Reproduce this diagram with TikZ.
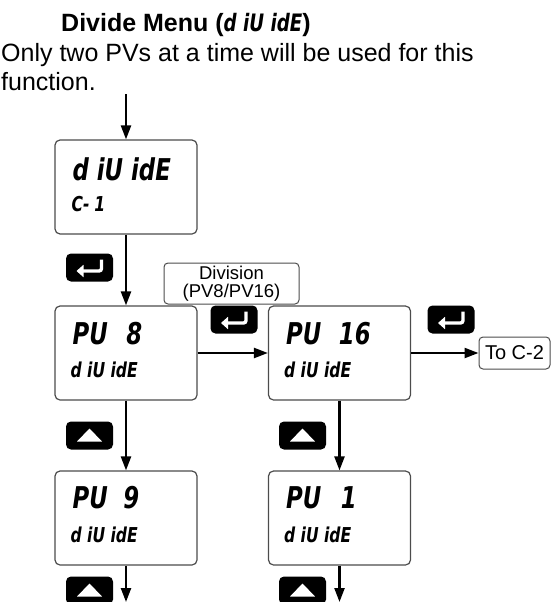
\documentclass[tikz,border=0pt]{standalone}
\usepackage{fontspec}
\setmainfont{Liberation Sans}
\newfontfamily\segfont[FakeStretch=0.76]{DejaVu Sans}
\usetikzlibrary{arrows.meta,calc}
\begin{document}
\begin{tikzpicture}[x=1pt,y=-1pt,
 disp/.style={draw=black!70, line width=1.2pt, rounded corners=5pt, minimum width=142pt, minimum height=94pt, inner sep=0pt},
 btn/.style={fill=black, rounded corners=5pt, minimum width=47pt, minimum height=28pt, inner sep=0pt},
 lbl/.style={draw=black!70, line width=1pt, rounded corners=4pt, inner sep=0pt, font=\fontsize{18.5}{18}\selectfont, align=center},
 flow/.style={line width=2.3pt, -{Triangle[length=14pt,width=10pt]}},
 segA/.style={font={\fontsize{30}{30}\selectfont\segfont\bfseries\itshape}, inner sep=0pt, anchor=base west},
 segB/.style={font={\fontsize{20.5}{21}\selectfont\segfont\bfseries\itshape}, inner sep=0pt, anchor=base west},
 txt/.style={font={\fontsize{25}{28}\selectfont}, inner sep=0pt, anchor=base west},
 entersym/.style={white, line width=3.4pt, rounded corners=2.5pt, -{Triangle[length=7pt,width=12pt]}},
]
\useasboundingbox (0,0) rectangle (555,602);
\clip (0,0) rectangle (555,602);

% texts
\node[txt, font={\fontsize{25}{28}\selectfont\bfseries}] (title) at (61,32) {Divide Menu ({\fontsize{24}{28}\selectfont\segfont\bfseries\itshape d iU idE})};
\node[txt] (intro1) at (1,62) {Only two PVs at a time will be used for this};
\node[txt] (intro2) at (1,90) {function.};

% display boxes
\node[disp] (box1) at (126,187) {};
\node[disp] (pv8) at (126,353) {};
\node[disp] (pv9) at (126,518) {};
\node[disp] (pv16) at (339.5,353) {};
\node[disp] (pv1) at (339.5,518) {};

% display texts
\node[segA] (t1a) at ($(box1.north west)+(18,41)$) {d iU idE};
\node[segB] (t1b) at ($(box1.north west)+(17,72)$) {C-\hspace{5pt}1};
\node[segA] (t8a) at ($(pv8.north west)+(18,39)$) {PU};
\node[segA, anchor=base east] (t8n) at ($(pv8.north west)+(88,39)$) {8};
\node[segB] (t8b) at ($(pv8.north west)+(16,72)$) {d iU idE};
\node[segA] (t9a) at ($(pv9.north west)+(18,38)$) {PU};
\node[segA, anchor=base east] (t9n) at ($(pv9.north west)+(85,38)$) {9};
\node[segB] (t9b) at ($(pv9.north west)+(16,72)$) {d iU idE};
\node[segA] (t16a) at ($(pv16.north west)+(18,39)$) {PU};
\node[segA, anchor=base east] (t16n) at ($(pv16.north west)+(103,39)$) {16};
\node[segB] (t16b) at ($(pv16.north west)+(16,72)$) {d iU idE};
\node[segA] (t1pa) at ($(pv1.north west)+(18,38)$) {PU};
\node[segA, anchor=base east] (t1pn) at ($(pv1.north west)+(89,38)$) {1};
\node[segB] (t1pb) at ($(pv1.north west)+(16,72)$) {d iU idE};

% labels
\node[lbl, minimum width=135pt, minimum height=41pt] (division) at (231.5,283.5) {Division\\(PV8/PV16)};
\node[lbl, minimum width=71pt, minimum height=32pt, font=\fontsize{20}{20}\selectfont] (toc2) at (514.5,353) {To C-2};

% buttons
\node[btn] (enL) at (89.5,267.5) {};
\node[btn] (enM) at (234,319.5) {};
\node[btn] (enR) at (451,319.5) {};
\node[btn] (upL1) at (89.5,435.5) {};
\node[btn] (upL2) at (89.5,590.5) {};
\node[btn] (upR1) at (302.5,435.5) {};
\node[btn] (upR2) at (302.5,590.5) {};
\foreach \b in {enL,enM,enR}{
  \draw[entersym] ($(\b.center)+(12,-8)$) -- ++(0,11.5) -- ++(-25,0);
}
\foreach \b in {upL1,upL2,upR1,upR2}{
  \fill[white] ($(\b.center)+(0,-7)$) -- ++(12.5,13) -- ++(-25,0) -- cycle;
}

% connectors
\coordinate (start) at (126,94);
\coordinate (endL) at (126,602);
\coordinate (endR) at (339.5,602);
\draw[flow] (start) -- (box1);
\draw[flow] (box1) -- (pv8);
\draw[flow] (pv8) -- (pv16);
\draw[flow] (pv16) -- (toc2);
\draw[flow] (pv8) -- (pv9);
\draw[flow] (pv16) -- (pv1);
\draw[flow] (pv9) -- (endL);
\draw[flow] (pv1) -- (endR);
\end{tikzpicture}
\end{document}
